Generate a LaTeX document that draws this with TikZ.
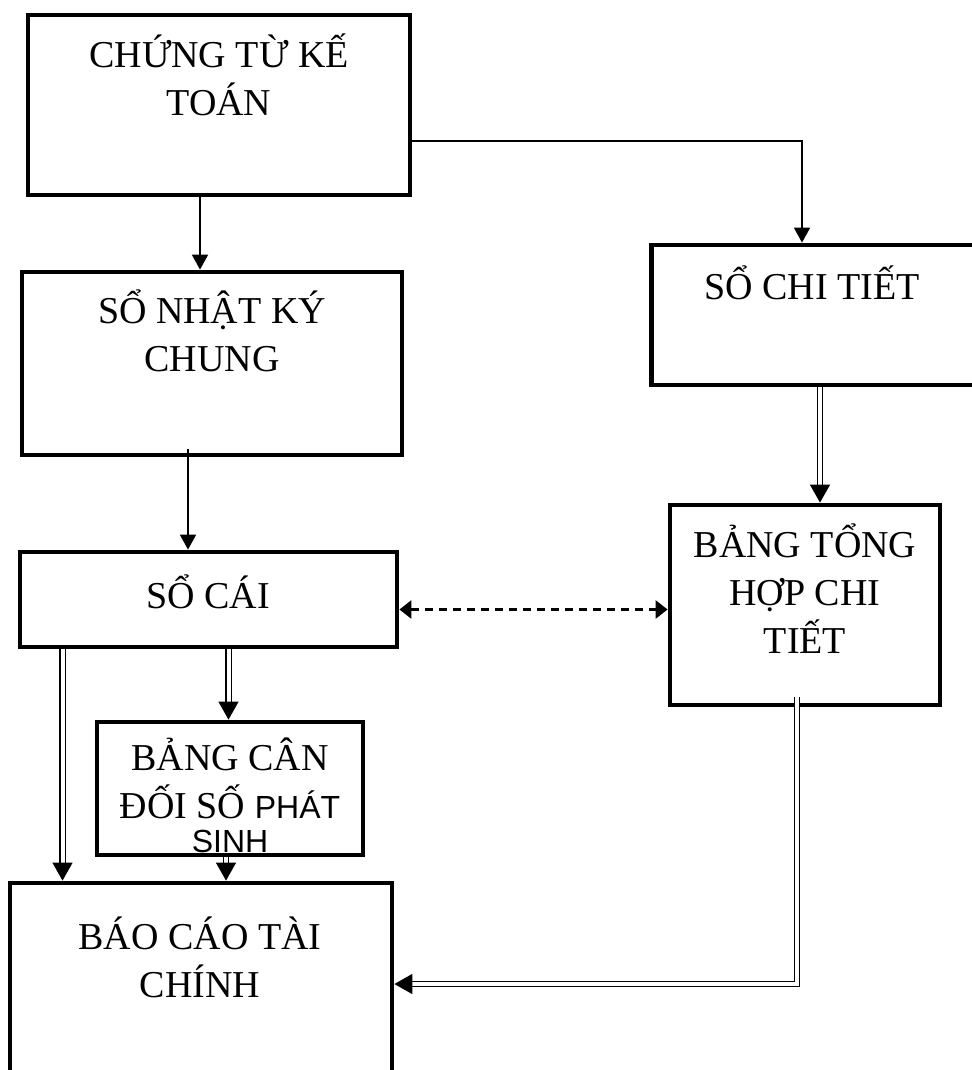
\documentclass[tikz,border=0pt]{standalone}
\usepackage{fontspec}
\setmainfont{Liberation Serif}
\newfontfamily\sansfont{Liberation Sans}
\usetikzlibrary{arrows.meta}

\begin{document}
\begin{tikzpicture}[x=0.5pt,y=-0.5pt]
\tikzstyle{box}=[rectangle,draw=black,line width=2.4pt,inner sep=0pt]
\tikzstyle{txt}=[align=center,inner sep=0pt,font=\fontsize{19}{24}\selectfont]
\tikzstyle{single}=[line width=.9pt,-{Triangle[length=7.5pt,width=8pt]}]
\tikzstyle{dbl}=[double,line width=.7pt,double distance=2pt,-{Triangle[length=9pt,width=10pt]}]
\tikzstyle{dashline}=[dashed,line width=1.3pt,dash pattern=on 4pt off 3pt,{Triangle[length=6pt,width=9pt]}-{Triangle[length=6pt,width=9pt]}]
\useasboundingbox (0,0) rectangle (972,1070);
\clip (0,0) rectangle (972,1070);

\node [box] (ct) at(219,105) [minimum width=191pt,minimum height=90pt] {};
\node [box] (snkc) at(212,363.5) [minimum width=190pt,minimum height=91.5pt] {};
\node [box] (sct) at(818,315) [minimum width=166.5pt,minimum height=70pt] {};
\node [box] (socai) at(208.5,599.5) [minimum width=188.5pt,minimum height=47.5pt] {};
\node [box] (bthct) at(805,605) [minimum width=135pt,minimum height=100pt] {};
\node [box] (bcd) at(230,788.5) [minimum width=133pt,minimum height=66.5pt] {};
\node [box] (bctc) at(201,984) [minimum width=191pt,minimum height=101pt] {};

\node [txt] (ct-t) at(219,75) {CHỨNG TỪ KẾ\\TOÁN};
\node [txt] (snkc-t) at(212,331) {SỔ NHẬT KÝ\\CHUNG};
\node [txt] (sct-t) at(812,283) {SỔ CHI TIẾT};
\node [txt] (socai-t) at(208,592) {SỔ CÁI};
\node [txt] (bthct-t) at(805,589) {BẢNG TỔNG\\HỢP CHI\\TIẾT};
\begin{scope}
\clip (97,722) rectangle (363,853);
\node [txt] (bcd-t) at(230,795) {BẢNG CÂN\\ĐỐI SỐ {\sansfont\fontsize{16}{24}\selectfont PHÁT}\\[-7pt]{\sansfont\fontsize{16}{23}\selectfont SINH}};
\end{scope}
\node [txt] (bctc-t) at(200,957) {BÁO CÁO TÀI\\CHÍNH};

\draw [single] ([xshift=-9.5pt]ct.south) -- ([xshift=-9.5pt]ct.south |- snkc.north);
\draw [single] ([yshift=-18pt]ct.east) -| ([xshift=-8pt]sct.north);
\draw [single] ([xshift=-12pt,yshift=4pt]snkc.south) -- ([xshift=-12pt]snkc.south |- socai.north);
\draw [dbl] ([xshift=1pt]sct.south) -- ([xshift=1pt]sct.south |- bthct.north);
\draw [dashline] ([yshift=-5pt]socai.east) -- ([yshift=-5pt]socai.east -| bthct.west);
\draw [dbl] ([xshift=-73pt]socai.south) -- ([xshift=-73pt]socai.south |- bctc.north);
\draw [dbl] ([xshift=10pt]socai.south) -- ([xshift=10pt]socai.south |- bcd.north);
\draw [dbl] ([xshift=-2pt]bcd.south) -- ([xshift=-2pt]bcd.south |- bctc.north);
\draw [dbl] ([xshift=-4pt,yshift=5pt]bthct.south) |- (bctc.east);
\end{tikzpicture}
\end{document}
